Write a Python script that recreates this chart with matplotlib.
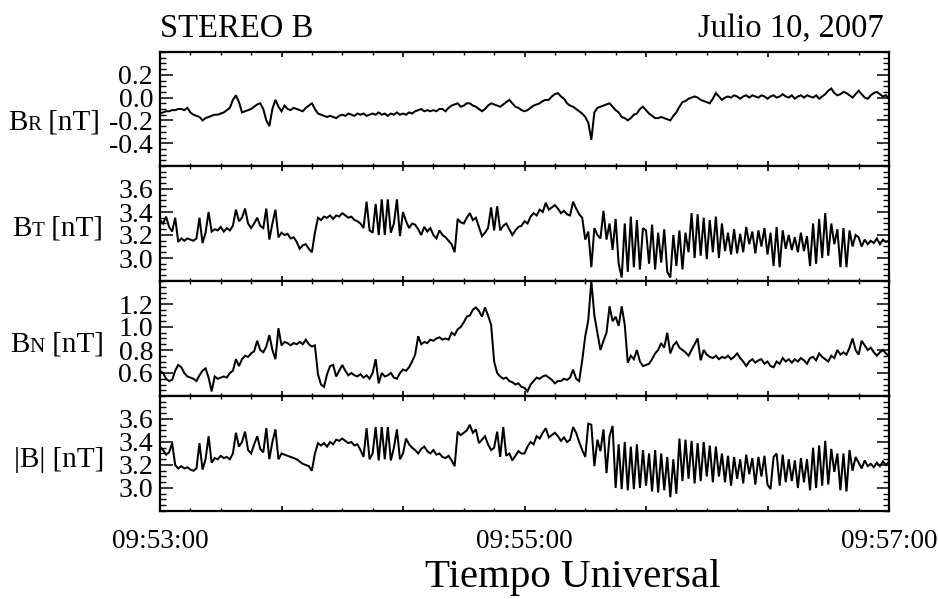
import numpy as np
import matplotlib
matplotlib.use("Agg")
import matplotlib.pyplot as plt
from matplotlib.ticker import MultipleLocator, FixedLocator, FuncFormatter

plt.rcParams['font.family'] = ['Liberation Serif', 'DejaVu Serif']
plt.rcParams['axes.unicode_minus'] = False

# ---------------------------------------------------------------------------
# Magnetic field components (RTN), 1-s samples starting at 09:53:00 UT
# ---------------------------------------------------------------------------
START_H, START_M = 9, 53
SAMPLE_STEP = 1.0  # seconds

br = [
    -0.14, -0.13, -0.12, -0.12, -0.11, -0.11, -0.10, -0.10, -0.11, -0.09,
    -0.13, -0.15, -0.16, -0.17, -0.20, -0.18, -0.17, -0.16, -0.15, -0.15,
    -0.14, -0.13, -0.11, -0.09, -0.02, 0.02, -0.04, -0.13, -0.12, -0.11,
    -0.10, -0.08, -0.06, -0.05, -0.10, -0.20, -0.25, -0.10, -0.02, -0.08,
    -0.12, -0.07, -0.10, -0.11, -0.09, -0.10, -0.11, -0.12, -0.09, -0.07,
    -0.05, -0.10, -0.14, -0.15, -0.16, -0.17, -0.16, -0.17, -0.18, -0.16,
    -0.15, -0.16, -0.14, -0.15, -0.16, -0.14, -0.15, -0.14, -0.16, -0.15,
    -0.14, -0.15, -0.13, -0.15, -0.14, -0.16, -0.14, -0.15, -0.13, -0.15,
    -0.14, -0.15, -0.13, -0.14, -0.12, -0.11, -0.10, -0.12, -0.11, -0.12,
    -0.11, -0.12, -0.10, -0.10, -0.12, -0.09, -0.07, -0.06, -0.05, -0.08,
    -0.07, -0.05, -0.05, -0.07, -0.08, -0.10, -0.12, -0.10, -0.07, -0.05,
    -0.06, -0.07, -0.08, -0.06, -0.04, -0.02, -0.05, -0.08, -0.09, -0.11,
    -0.12, -0.11, -0.09, -0.07, -0.06, -0.05, -0.03, -0.02, -0.02, 0.01,
    0.03, 0.04, 0.01, -0.01, -0.05, -0.07, -0.08, -0.10, -0.12, -0.14,
    -0.17, -0.22, -0.37, -0.13, -0.09, -0.08, -0.07, -0.06, -0.05, -0.08,
    -0.11, -0.13, -0.17, -0.18, -0.20, -0.18, -0.15, -0.14, -0.10, -0.08,
    -0.11, -0.14, -0.16, -0.18, -0.18, -0.17, -0.18, -0.19, -0.20, -0.16,
    -0.13, -0.08, -0.04, -0.03, -0.01, 0.00, 0.01, 0.00, -0.02, -0.03,
    -0.04, -0.05, -0.01, 0.04, 0.01, -0.02, 0.00, 0.01, 0.00, 0.02,
    0.01, -0.01, 0.01, 0.02, 0.00, 0.02, 0.01, 0.00, 0.02, 0.01,
    -0.01, 0.01, 0.02, 0.00, 0.01, 0.03, 0.01, 0.00, 0.02, -0.01,
    0.01, 0.02, 0.00, 0.02, 0.01, 0.00, 0.02, -0.01, 0.01, 0.03,
    0.06, 0.08, 0.04, 0.02, 0.03, 0.05, 0.04, 0.02, 0.00, 0.03,
    0.06, 0.03, 0.00, -0.01, 0.02, 0.04, 0.05, 0.03, 0.01, 0.02, -0.01,
]

bt = [
    3.33, 3.30, 3.36, 3.27, 3.23, 3.35, 3.14, 3.17, 3.15, 3.17,
    3.16, 3.15, 3.17, 3.35, 3.13, 3.22, 3.40, 3.23, 3.25, 3.24,
    3.27, 3.23, 3.26, 3.24, 3.28, 3.42, 3.32, 3.35, 3.43, 3.30,
    3.26, 3.30, 3.35, 3.28, 3.26, 3.43, 3.16, 3.30, 3.42, 3.18,
    3.22, 3.20, 3.21, 3.17, 3.18, 3.14, 3.08, 3.11, 3.12, 3.08,
    3.05, 3.22, 3.35, 3.33, 3.36, 3.35, 3.37, 3.34, 3.37, 3.36,
    3.39, 3.37, 3.35, 3.36, 3.33, 3.32, 3.30, 3.26, 3.49, 3.24,
    3.22, 3.47, 3.20, 3.51, 3.20, 3.51, 3.22, 3.30, 3.51, 3.19,
    3.40, 3.32, 3.26, 3.30, 3.29, 3.25, 3.20, 3.27, 3.23, 3.26,
    3.20, 3.17, 3.24, 3.20, 3.18, 3.15, 3.12, 3.05, 3.34, 3.31,
    3.30, 3.35, 3.39, 3.33, 3.35, 3.27, 3.19, 3.22, 3.26, 3.44,
    3.24, 3.45, 3.24, 3.28, 3.30, 3.25, 3.20, 3.24, 3.27, 3.28,
    3.32, 3.30, 3.36, 3.39, 3.37, 3.42, 3.40, 3.48, 3.42, 3.44,
    3.46, 3.43, 3.39, 3.41, 3.38, 3.37, 3.49, 3.43, 3.38, 3.35,
    3.16, 3.23, 2.92, 3.26, 3.20, 3.17, 3.41, 3.16, 3.30, 3.07,
    3.34, 2.95, 2.83, 3.30, 2.88, 3.36, 2.92, 3.33, 2.90, 3.26,
    3.24, 2.95, 3.29, 2.90, 3.22, 2.96, 3.25, 2.88, 2.83, 3.20,
    2.93, 3.24, 2.90, 3.22, 3.05, 3.39, 3.00, 3.38, 3.02, 3.35,
    2.99, 3.33, 3.05, 3.36, 3.00, 3.30, 3.06, 3.22, 3.03, 3.25,
    3.04, 3.21, 3.05, 3.27, 3.12, 3.23, 3.04, 3.24, 3.10, 3.26,
    3.03, 3.22, 2.93, 3.27, 2.92, 3.24, 3.08, 3.20, 3.07, 3.18,
    3.05, 3.22, 3.06, 3.19, 2.93, 3.30, 2.95, 3.34, 3.00, 3.39,
    3.02, 3.30, 3.12, 3.25, 2.92, 3.26, 2.92, 3.24, 3.10, 3.20,
    3.18, 3.10, 3.16, 3.12, 3.15, 3.13, 3.17, 3.12, 3.16, 3.14, 3.15,
]

bn = [
    0.62, 0.60, 0.55, 0.53, 0.54, 0.62, 0.67, 0.65, 0.60, 0.57,
    0.56, 0.55, 0.53, 0.58, 0.62, 0.64, 0.56, 0.44, 0.57, 0.55,
    0.56, 0.57, 0.56, 0.60, 0.62, 0.72, 0.66, 0.72, 0.75, 0.74,
    0.77, 0.79, 0.88, 0.80, 0.78, 0.83, 0.93, 0.80, 0.72, 0.99,
    0.84, 0.87, 0.86, 0.84, 0.86, 0.85, 0.87, 0.85, 0.89, 0.85,
    0.83, 0.84, 0.59, 0.50, 0.48, 0.59, 0.66, 0.67, 0.57, 0.62,
    0.67, 0.62, 0.58, 0.60, 0.58, 0.57, 0.59, 0.56, 0.58, 0.55,
    0.60, 0.72, 0.51, 0.60, 0.57, 0.58, 0.60, 0.56, 0.55, 0.60,
    0.63, 0.62, 0.65, 0.70, 0.76, 0.92, 0.85, 0.87, 0.86, 0.89,
    0.88, 0.90, 0.91, 0.89, 0.90, 0.89, 0.95, 0.93, 0.98, 1.00,
    1.04, 1.09, 1.10, 1.15, 1.17, 1.14, 1.09, 1.17, 1.10, 1.02,
    0.70, 0.60, 0.57, 0.55, 0.56, 0.53, 0.52, 0.50, 0.51, 0.48,
    0.47, 0.44, 0.50, 0.53, 0.56, 0.55, 0.57, 0.58, 0.56, 0.54,
    0.51, 0.53, 0.53, 0.55, 0.54, 0.56, 0.63, 0.55, 0.53, 0.71,
    0.92, 1.06, 1.40, 1.10, 0.95, 0.80, 0.88, 0.95, 1.18, 1.05,
    1.09, 1.01, 1.18, 1.02, 0.69, 0.75, 0.72, 0.80, 0.70, 0.66,
    0.67, 0.68, 0.72, 0.77, 0.80, 0.86, 0.82, 0.95, 0.77, 0.84,
    0.87, 0.82, 0.80, 0.78, 0.75, 0.80, 0.85, 0.90, 0.71, 0.80,
    0.76, 0.74, 0.73, 0.75, 0.72, 0.74, 0.73, 0.75, 0.72, 0.74,
    0.77, 0.73, 0.70, 0.66, 0.70, 0.72, 0.69, 0.71, 0.72, 0.68,
    0.70, 0.66, 0.65, 0.70, 0.68, 0.73, 0.70, 0.72, 0.69, 0.72,
    0.70, 0.73, 0.71, 0.68, 0.73, 0.74, 0.71, 0.77, 0.74, 0.72,
    0.70, 0.75, 0.73, 0.80, 0.76, 0.78, 0.76, 0.82, 0.90, 0.80,
    0.76, 0.88, 0.84, 0.80, 0.82, 0.78, 0.75, 0.78, 0.80, 0.77, 0.75,
]

bmag = [
    3.36, 3.33, 3.29, 3.31, 3.39, 3.20, 3.17, 3.19, 3.17, 3.18,
    3.16, 3.15, 3.17, 3.39, 3.16, 3.25, 3.45, 3.22, 3.26, 3.25,
    3.28, 3.26, 3.27, 3.25, 3.30, 3.48, 3.36, 3.40, 3.49, 3.33,
    3.30, 3.38, 3.45, 3.34, 3.31, 3.52, 3.25, 3.40, 3.51, 3.25,
    3.30, 3.29, 3.28, 3.27, 3.26, 3.25, 3.23, 3.21, 3.20, 3.19,
    3.15, 3.30, 3.39, 3.37, 3.39, 3.36, 3.40, 3.38, 3.42, 3.41,
    3.43, 3.41, 3.39, 3.40, 3.37, 3.38, 3.33, 3.27, 3.52, 3.25,
    3.30, 3.53, 3.24, 3.53, 3.25, 3.53, 3.24, 3.35, 3.51, 3.25,
    3.30, 3.43, 3.38, 3.35, 3.33, 3.30, 3.34, 3.36, 3.32, 3.30,
    3.33, 3.29, 3.30, 3.27, 3.26, 3.28, 3.24, 3.19, 3.49, 3.46,
    3.48, 3.50, 3.55, 3.48, 3.51, 3.39, 3.42, 3.45, 3.38, 3.33,
    3.35, 3.49, 3.27, 3.53, 3.28, 3.30, 3.24, 3.28, 3.32, 3.30,
    3.30, 3.36, 3.40, 3.38, 3.45, 3.43, 3.48, 3.52, 3.44, 3.46,
    3.48, 3.45, 3.41, 3.44, 3.40, 3.42, 3.53, 3.48, 3.40, 3.33,
    3.27, 3.56, 3.55, 3.19, 3.42, 3.32, 3.51, 3.13, 3.45, 3.54,
    3.00, 3.38, 2.99, 3.40, 2.98, 3.36, 2.99, 3.38, 3.00, 3.33,
    3.02, 3.30, 2.97, 3.33, 2.96, 3.30, 2.98, 3.27, 2.92, 3.25,
    2.95, 3.43, 3.06, 3.42, 3.08, 3.41, 3.04, 3.39, 3.06, 3.40,
    3.10, 3.37, 3.05, 3.36, 3.10, 3.30, 3.05, 3.28, 3.02, 3.27,
    3.08, 3.25, 3.04, 3.29, 3.12, 3.26, 3.03, 3.27, 3.10, 3.28,
    3.03, 2.99, 3.27, 3.30, 3.02, 3.29, 3.05, 3.25, 3.06, 3.24,
    3.00, 3.26, 3.05, 3.25, 2.98, 3.35, 3.00, 3.37, 3.02, 3.41,
    3.03, 3.34, 3.14, 3.30, 2.98, 3.30, 2.97, 3.33, 3.15, 3.27,
    3.22, 3.17, 3.24, 3.19, 3.21, 3.18, 3.22, 3.19, 3.23, 3.20, 3.23,
]

series = [br, bt, bn, bmag]
label_parts = [
    [("B", 1.0), ("R", 0.72), (" [nT]", 1.0)],
    [("B", 1.0), ("T", 0.72), (" [nT]", 1.0)],
    [("B", 1.0), ("N", 0.72), (" [nT]", 1.0)],
    [("|B| [nT]", 1.0)],
]
y_limits = [(-0.6, 0.4), (2.8, 3.8), (0.4, 1.4), (2.8, 3.8)]
y_major = [
    [-0.4, -0.2, 0.0, 0.2],
    [3.0, 3.2, 3.4, 3.6],
    [0.6, 0.8, 1.0, 1.2],
    [3.0, 3.2, 3.4, 3.6],
]
time_span = 240          # seconds shown
labelled_times = [0, 120, 240]

# ---------------------------------------------------------------------------
W, H = 938, 599
fig = plt.figure(figsize=(W / 100, H / 100), dpi=100)

x_left, x_right = 160, 889
edges = [52, 166, 281, 396, 511]
label_baselines = [130, 236, 352, 467]
label_starts = [8, 12, 10, 14]


def hhmmss(sec, _pos=None):
    s = int(round(sec))
    if s not in labelled_times:
        return ""
    total = START_H * 3600 + START_M * 60 + s
    return f"{total // 3600:02d}:{(total % 3600) // 60:02d}:{total % 60:02d}"


axes = []
for i, values in enumerate(series):
    top, bot = edges[i], edges[i + 1]
    ax = fig.add_axes([x_left / W, 1 - bot / H, (x_right - x_left) / W, (bot - top) / H])
    t = np.arange(len(values)) * SAMPLE_STEP
    ax.plot(t, values, color="black", lw=1.45, solid_joinstyle="miter")
    ax.set_xlim(0, time_span)
    ax.set_ylim(*y_limits[i])

    ax.yaxis.set_major_locator(FixedLocator(y_major[i]))
    ax.yaxis.set_minor_locator(MultipleLocator(0.05))
    ax.yaxis.set_major_formatter(FuncFormatter(lambda v, p: f"{v:.1f}"))
    ax.tick_params(axis="y", which="major", direction="in", length=9, width=1.1,
                   left=True, right=True, labelsize=20, pad=5)
    ax.tick_params(axis="y", which="minor", direction="in", length=4.5, width=1.0,
                   left=True, right=True)

    ax.xaxis.set_major_locator(MultipleLocator(40))
    ax.xaxis.set_minor_locator(MultipleLocator(10))
    ax.tick_params(axis="x", which="major", direction="in", length=3.5, width=1.2,
                   top=True, bottom=True, labelsize=19.6, pad=13)
    ax.tick_params(axis="x", which="minor", direction="in", length=2, width=1.0,
                   top=True, bottom=True)
    if i == len(series) - 1:
        ax.xaxis.set_major_formatter(FuncFormatter(hhmmss))
    else:
        ax.tick_params(axis="x", labelbottom=False)

    for sp in ax.spines.values():
        sp.set_linewidth(1.6)
    axes.append(ax)

# Panel labels with reduced-size component letters on the same baseline
renderer = fig.canvas.get_renderer()
base_size = 21
for parts, base, x0 in zip(label_parts, label_baselines, label_starts):
    x = x0
    for text, scale in parts:
        tx = fig.text(x / W, 1 - base / H, text, fontsize=base_size * scale,
                      ha="left", va="baseline")
        x = tx.get_window_extent(renderer).x1

fig.text(160 / W, 1 - 37 / H, "STEREO B", fontsize=23.5, ha="left", va="baseline")
fig.text(884 / W, 1 - 37 / H, "Julio 10, 2007", fontsize=23.5, ha="right", va="baseline")
fig.text(573 / W, 1 - 587 / H, "Tiempo Universal", fontsize=29.5, ha="center", va="baseline")

fig.savefig("out.png", dpi=100)
